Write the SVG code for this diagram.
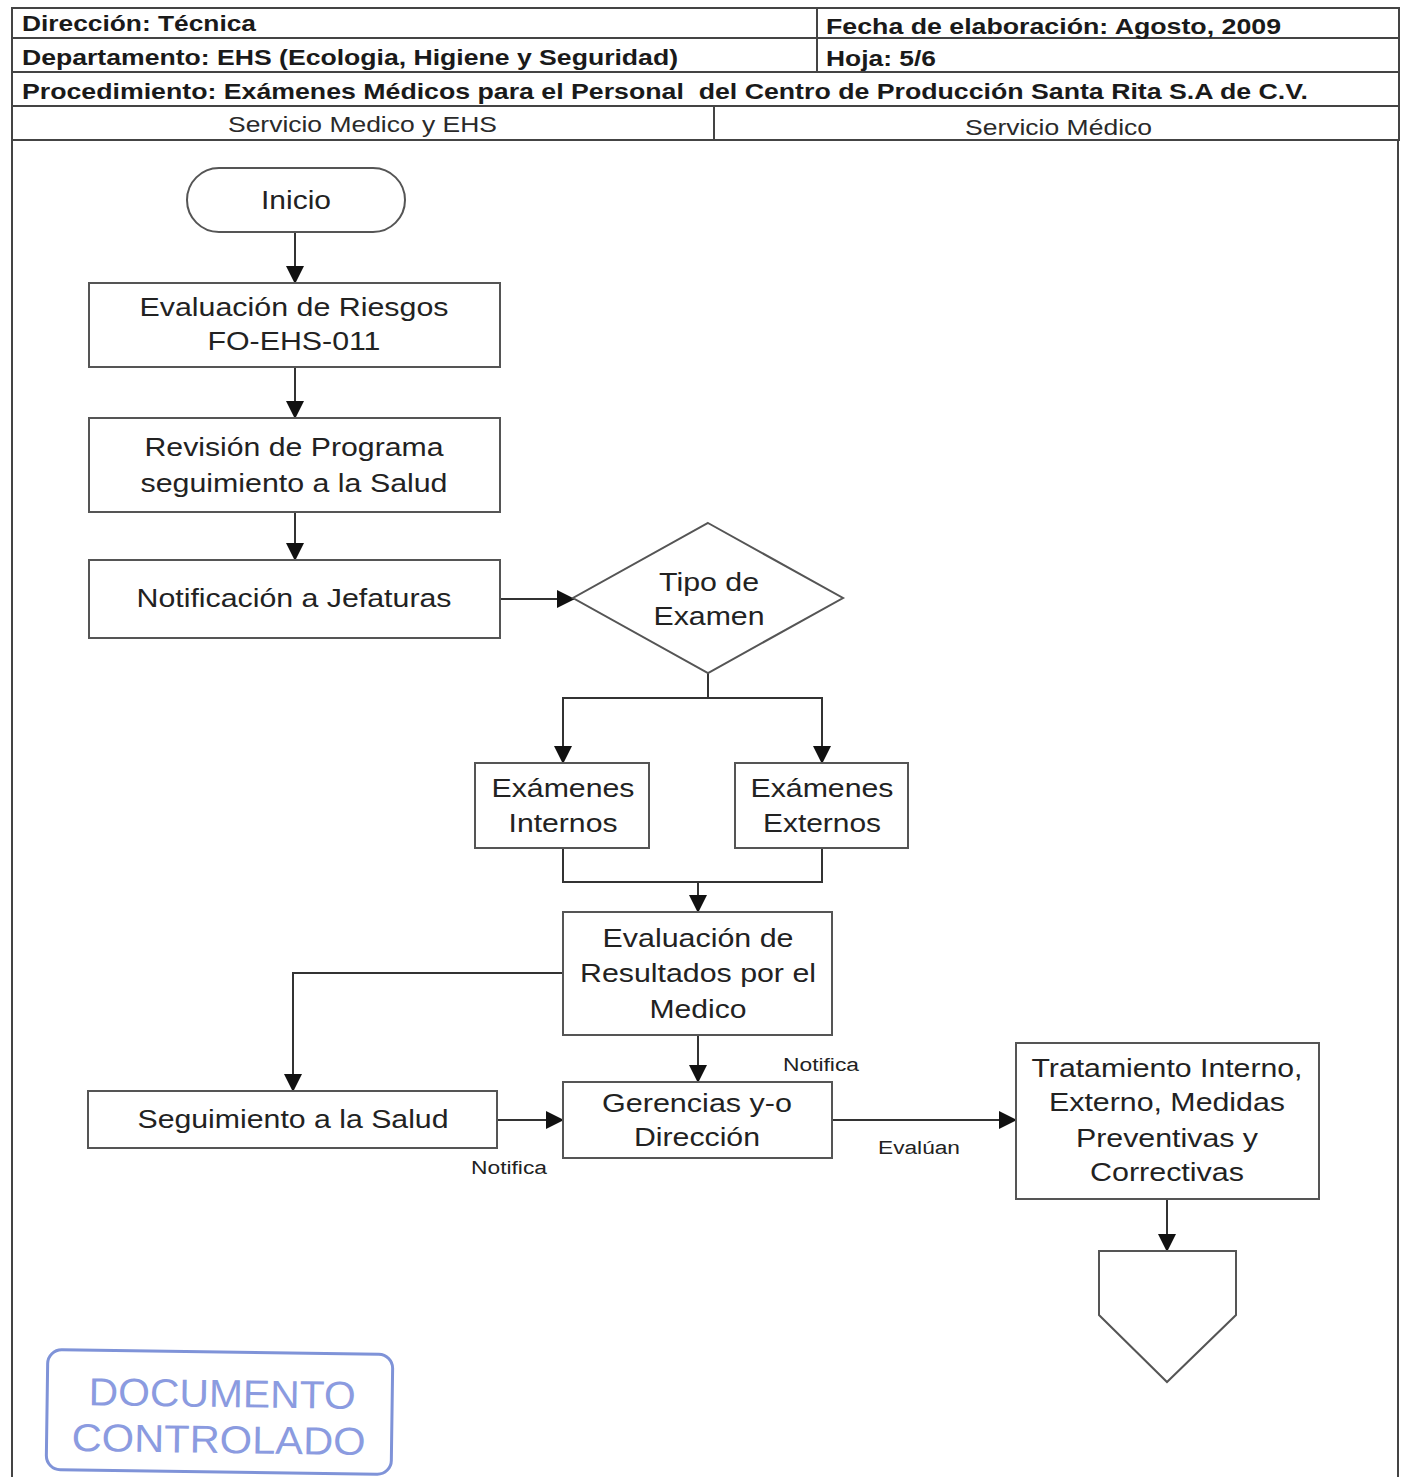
<svg xmlns="http://www.w3.org/2000/svg" width="1408" height="1477" viewBox="0 0 1408 1477">
<defs>
<marker id="arr" markerUnits="userSpaceOnUse" markerWidth="18" markerHeight="18" refX="17" refY="9" orient="auto">
<path d="M0,0 L18,9 L0,18 Z" fill="#111"/>
</marker>
<style>
.hdr{font-family:"Liberation Sans",Arial,sans-serif;font-size:22px;font-weight:bold;fill:#1a1a1a}
.lane{font-family:"Liberation Sans",Arial,sans-serif;font-size:22px;fill:#2a2a2a}
.t{font-family:"Liberation Sans",Arial,sans-serif;font-size:26px;fill:#222;text-anchor:middle}
.s{font-family:"Liberation Sans",Arial,sans-serif;font-size:18px;fill:#222;text-anchor:middle}
.box{fill:#fff;stroke:#555;stroke-width:2}
.grid{fill:none;stroke:#444;stroke-width:2}
.c{fill:none;stroke:#333;stroke-width:2}
.stamp{font-family:"Liberation Sans",Arial,sans-serif;font-size:39px;fill:#8b9be0;text-anchor:middle}
</style>
</defs>
<rect width="1408" height="1477" fill="#fff"/>

<g id="header">
<rect class="grid" x="12" y="8" width="1387" height="132"/>
<line class="grid" x1="12" y1="38" x2="1399" y2="38"/>
<line class="grid" x1="12" y1="72" x2="1399" y2="72"/>
<line class="grid" x1="12" y1="106" x2="1399" y2="106"/>
<line class="grid" x1="817" y1="8" x2="817" y2="72"/>
<line class="grid" x1="714" y1="106" x2="714" y2="140"/>
<line class="grid" x1="12" y1="140" x2="12" y2="1477"/>
<line class="grid" x1="1398" y1="140" x2="1398" y2="1477"/>
<text class="hdr" x="22" y="31" textLength="234" lengthAdjust="spacingAndGlyphs">Dirección: Técnica</text>
<text class="hdr" x="22" y="65" textLength="656" lengthAdjust="spacingAndGlyphs">Departamento: EHS (Ecologia, Higiene y Seguridad)</text>
<text class="hdr" x="22" y="99" textLength="1286" lengthAdjust="spacingAndGlyphs" xml:space="preserve">Procedimiento: Exámenes Médicos para el Personal  del Centro de Producción Santa Rita S.A de C.V.</text>
<text class="hdr" x="826" y="34" textLength="455" lengthAdjust="spacingAndGlyphs">Fecha de elaboración: Agosto, 2009</text>
<text class="hdr" x="826" y="66" textLength="110" lengthAdjust="spacingAndGlyphs">Hoja: 5/6</text>
<text class="lane" x="228" y="132" textLength="269" lengthAdjust="spacingAndGlyphs">Servicio Medico y EHS</text>
<text class="lane" x="965" y="135" textLength="187" lengthAdjust="spacingAndGlyphs">Servicio Médico</text>
</g>

<g id="connectors">
<line class="c" x1="295" y1="232" x2="295" y2="283" marker-end="url(#arr)"/>
<line class="c" x1="295" y1="367" x2="295" y2="418" marker-end="url(#arr)"/>
<line class="c" x1="295" y1="512" x2="295" y2="560" marker-end="url(#arr)"/>
<line class="c" x1="500" y1="599" x2="574" y2="599" marker-end="url(#arr)"/>
<polyline class="c" points="708,673 708,698 563,698 563,763" marker-end="url(#arr)"/>
<polyline class="c" points="708,698 822,698 822,763" marker-end="url(#arr)"/>
<polyline class="c" points="563,848 563,882 822,882 822,848"/>
<line class="c" x1="698" y1="882" x2="698" y2="912" marker-end="url(#arr)"/>
<polyline class="c" points="563,973 293,973 293,1091" marker-end="url(#arr)"/>
<line class="c" x1="698" y1="1035" x2="698" y2="1082" marker-end="url(#arr)"/>
<line class="c" x1="497" y1="1120" x2="563" y2="1120" marker-end="url(#arr)"/>
<line class="c" x1="832" y1="1120" x2="1016" y2="1120" marker-end="url(#arr)"/>
<line class="c" x1="1167" y1="1199" x2="1167" y2="1251" marker-end="url(#arr)"/>
<text class="s" x="821" y="1071" textLength="76" lengthAdjust="spacingAndGlyphs">Notifica</text>
<text class="s" x="509" y="1174" textLength="76" lengthAdjust="spacingAndGlyphs">Notifica</text>
<text class="s" x="919" y="1154" textLength="82" lengthAdjust="spacingAndGlyphs">Evalúan</text>
</g>

<g id="inicio">
<rect class="box" x="187" y="168" width="218" height="64" rx="32" ry="32"/>
<text class="t" x="296" y="209" textLength="70" lengthAdjust="spacingAndGlyphs">Inicio</text>
</g>

<g id="evaluacion-riesgos">
<rect class="box" x="89" y="283" width="411" height="84"/>
<text class="t" x="294" y="316" textLength="309" lengthAdjust="spacingAndGlyphs">Evaluación de Riesgos</text>
<text class="t" x="294" y="350" textLength="173" lengthAdjust="spacingAndGlyphs">FO-EHS-011</text>
</g>

<g id="revision-programa">
<rect class="box" x="89" y="418" width="411" height="94"/>
<text class="t" x="294" y="456" textLength="299" lengthAdjust="spacingAndGlyphs">Revisión de Programa</text>
<text class="t" x="294" y="492" textLength="307" lengthAdjust="spacingAndGlyphs">seguimiento a la Salud</text>
</g>

<g id="notificacion-jefaturas">
<rect class="box" x="89" y="560" width="411" height="78"/>
<text class="t" x="294" y="607" textLength="315" lengthAdjust="spacingAndGlyphs">Notificación a Jefaturas</text>
</g>

<g id="tipo-examen">
<polygon class="box" points="708,523 843,598 708,673 573,598"/>
<text class="t" x="709" y="591" textLength="100" lengthAdjust="spacingAndGlyphs">Tipo de</text>
<text class="t" x="709" y="625" textLength="111" lengthAdjust="spacingAndGlyphs">Examen</text>
</g>

<g id="examenes-internos">
<rect class="box" x="475" y="763" width="174" height="85"/>
<text class="t" x="563" y="797" textLength="143" lengthAdjust="spacingAndGlyphs">Exámenes</text>
<text class="t" x="563" y="832" textLength="109" lengthAdjust="spacingAndGlyphs">Internos</text>
</g>

<g id="examenes-externos">
<rect class="box" x="735" y="763" width="173" height="85"/>
<text class="t" x="822" y="797" textLength="143" lengthAdjust="spacingAndGlyphs">Exámenes</text>
<text class="t" x="822" y="832" textLength="118" lengthAdjust="spacingAndGlyphs">Externos</text>
</g>

<g id="evaluacion-resultados">
<rect class="box" x="563" y="912" width="269" height="123"/>
<text class="t" x="698" y="947" textLength="191" lengthAdjust="spacingAndGlyphs">Evaluación de</text>
<text class="t" x="698" y="982" textLength="236" lengthAdjust="spacingAndGlyphs">Resultados por el</text>
<text class="t" x="698" y="1018" textLength="97" lengthAdjust="spacingAndGlyphs">Medico</text>
</g>

<g id="seguimiento-salud">
<rect class="box" x="88" y="1091" width="409" height="57"/>
<text class="t" x="293" y="1128" textLength="311" lengthAdjust="spacingAndGlyphs">Seguimiento a la Salud</text>
</g>

<g id="gerencias-direccion">
<rect class="box" x="563" y="1082" width="269" height="76"/>
<text class="t" x="697" y="1112" textLength="190" lengthAdjust="spacingAndGlyphs">Gerencias y-o</text>
<text class="t" x="697" y="1146" textLength="126" lengthAdjust="spacingAndGlyphs">Dirección</text>
</g>

<g id="tratamiento">
<rect class="box" x="1016" y="1043" width="303" height="156"/>
<text class="t" x="1167" y="1077" textLength="271" lengthAdjust="spacingAndGlyphs">Tratamiento Interno,</text>
<text class="t" x="1167" y="1111" textLength="236" lengthAdjust="spacingAndGlyphs">Externo, Medidas</text>
<text class="t" x="1167" y="1147" textLength="182" lengthAdjust="spacingAndGlyphs">Preventivas y</text>
<text class="t" x="1167" y="1181" textLength="154" lengthAdjust="spacingAndGlyphs">Correctivas</text>
</g>

<g id="conector-pagina">
<polygon class="box" points="1099,1251 1236,1251 1236,1315 1167,1382 1099,1315"/>
</g>

<g id="sello" transform="rotate(0.8 220 1412)">
<rect x="47" y="1352" width="345" height="120" rx="14" ry="14" fill="none" stroke="#7f93d8" stroke-width="3"/>
<text class="stamp" x="222" y="1407" textLength="267" lengthAdjust="spacingAndGlyphs">DOCUMENTO</text>
<text class="stamp" x="219" y="1453" textLength="294" lengthAdjust="spacingAndGlyphs">CONTROLADO</text>
</g>
</svg>
